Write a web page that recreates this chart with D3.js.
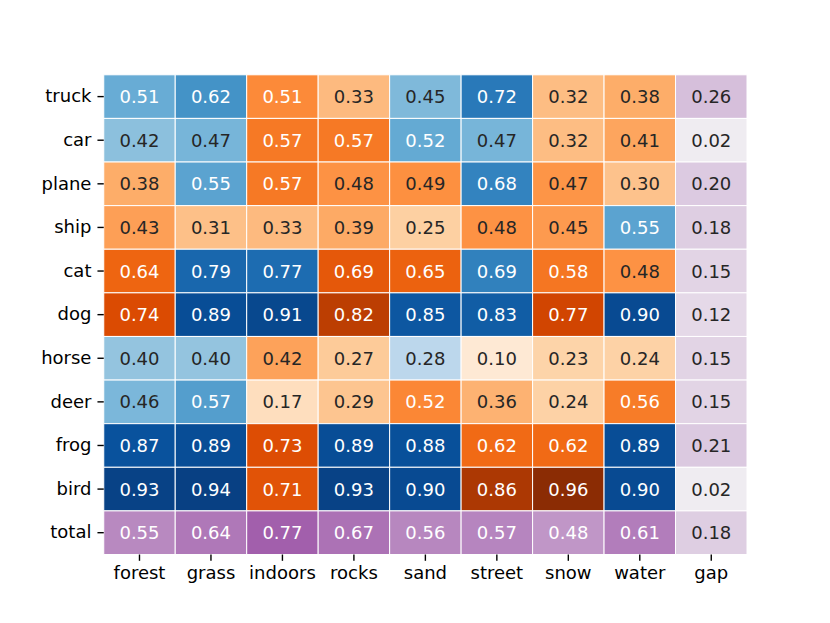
<!DOCTYPE html>
<html lang="en">
<head>
    <meta charset="UTF-8">
    <title>Heatmap</title>
    <script src="https://d3js.org/d3.v7.min.js"></script>
    <style>
        body { margin: 0; background: #fff; }
        svg text { font-family: "DejaVu Sans", sans-serif; }
    </style>
</head>
<body>
    <div id="chart"></div>
    <script>
        // categories
        const scenes = ["forest", "grass", "indoors", "rocks", "sand", "street", "snow", "water"];
        const columns = scenes.concat(["gap"]);
        const classes = ["truck", "car", "plane", "ship", "cat", "dog", "horse", "deer", "frog", "bird"];
        const rows = classes.concat(["total"]);

        // accuracy per class x scene
        const truckVals = [0.51, 0.62, 0.51, 0.33, 0.45, 0.72, 0.32, 0.38];
        const carVals   = [0.42, 0.47, 0.57, 0.57, 0.52, 0.47, 0.32, 0.41];
        const planeVals = [0.38, 0.55, 0.57, 0.48, 0.49, 0.68, 0.47, 0.30];
        const shipVals  = [0.43, 0.31, 0.33, 0.39, 0.25, 0.48, 0.45, 0.55];
        const catVals   = [0.64, 0.79, 0.77, 0.69, 0.65, 0.69, 0.58, 0.48];
        const dogVals   = [0.74, 0.89, 0.91, 0.82, 0.85, 0.83, 0.77, 0.90];
        const horseVals = [0.40, 0.40, 0.42, 0.27, 0.28, 0.10, 0.23, 0.24];
        const deerVals  = [0.46, 0.57, 0.17, 0.29, 0.52, 0.36, 0.24, 0.56];
        const frogVals  = [0.87, 0.89, 0.73, 0.89, 0.88, 0.62, 0.62, 0.89];
        const birdVals  = [0.93, 0.94, 0.71, 0.93, 0.90, 0.86, 0.96, 0.90];
        const classVals = [truckVals, carVals, planeVals, shipVals, catVals, dogVals, horseVals, deerVals, frogVals, birdVals];

        // which colour map each cell uses (B = blue, O = orange)
        const cellGroup = [
            "BBOOBBOO", "BBOOBBOO", "OBOOOBOO", "OOOOOOOB", "OBBOOBOO",
            "OBBOBBOB", "BBOOBOOO", "BBOOOOOO", "BBOBBOOB", "BBOBBOOB"
        ];

        const gapVals = [0.26, 0.02, 0.20, 0.18, 0.15, 0.12, 0.15, 0.15, 0.21, 0.02];
        const totalVals = [0.55, 0.64, 0.77, 0.67, 0.56, 0.57, 0.48, 0.61];
        const totalGap = 0.18;

        // matplotlib style colour maps
        const bluesList = ["#f7fbff", "#deebf7", "#c6dbef", "#9ecae1", "#6baed6", "#4292c6", "#2171b5", "#08519c", "#08306b"];
        const orangesList = ["#fff5eb", "#fee6ce", "#fdd0a2", "#fdae6b", "#fd8d3c", "#f16913", "#d94801", "#a63603", "#7f2704"];
        const steps = d3.range(9).map(i => i / 8);
        const blues = d3.scaleLinear().domain(steps).range(bluesList).clamp(true);
        const oranges = d3.scaleLinear().domain(steps).range(orangesList).clamp(true);
        const purples = d3.scaleLinear().domain([0, 1]).range(["#f1f0f3", "#8a3497"]).clamp(true);

        // build cell list
        const cells = [];
        classes.forEach((c, i) => {
            scenes.forEach((s, j) => {
                const g = cellGroup[i][j];
                cells.push({ row: c, col: s, v: classVals[i][j], color: g === "B" ? blues : oranges });
            });
            cells.push({ row: c, col: "gap", v: gapVals[i], color: purples });
        });
        scenes.forEach((s, j) => cells.push({ row: "total", col: s, v: totalVals[j], color: purples }));
        cells.push({ row: "total", col: "gap", v: totalGap, color: purples });

        const W = 830, H = 623;
        const mLeft = 103.75, mRight = 747, mTop = 74.8, mBottom = 554.5;

        const svg = d3.select("#chart").append("svg")
            .attr("width", W)
            .attr("height", H);

        const x = d3.scaleBand().domain(columns).range([mLeft, mRight]);
        const y = d3.scaleBand().domain(rows).range([mTop, mBottom]);

        // seaborn picks text colour from luminance
        function lum(c) {
            const rgb = d3.rgb(c);
            const f = v => {
                v /= 255;
                return v <= 0.03928 ? v / 12.92 : Math.pow((v + 0.055) / 1.055, 2.4);
            };
            return 0.2126 * f(rgb.r) + 0.7152 * f(rgb.g) + 0.0722 * f(rgb.b);
        }

        svg.append("g")
            .selectAll("rect")
            .data(cells)
            .enter().append("rect")
            .attr("x", d => x(d.col))
            .attr("y", d => y(d.row))
            .attr("width", x.bandwidth())
            .attr("height", y.bandwidth())
            .attr("fill", d => d.color(d.v))
            .attr("stroke", "#fff")
            .attr("stroke-width", 1);

        svg.append("g")
            .selectAll("text")
            .data(cells)
            .enter().append("text")
            .attr("x", d => x(d.col) + x.bandwidth() / 2)
            .attr("y", d => y(d.row) + y.bandwidth() / 2)
            .attr("text-anchor", "middle")
            .attr("dominant-baseline", "central")
            .attr("font-size", 18)
            .attr("fill", d => lum(d.color(d.v)) > 0.408 ? "#262626" : "#fff")
            .text(d => d.v.toFixed(2));

        // axes
        const xAxis = svg.append("g")
            .attr("transform", `translate(0,${mBottom})`)
            .call(d3.axisBottom(x).tickSize(6.3).tickPadding(5));
        const yAxis = svg.append("g")
            .attr("transform", `translate(${mLeft},0)`)
            .call(d3.axisLeft(y).tickSize(6.3).tickPadding(6));

        [xAxis, yAxis].forEach(a => {
            a.select(".domain").remove();
            a.selectAll(".tick line").attr("stroke", "#000").attr("stroke-width", 1.4);
            a.selectAll(".tick text")
                .attr("fill", "#000")
                .attr("font-size", 18)
                .attr("font-family", "DejaVu Sans");
        });
    </script>
</body>
</html>
